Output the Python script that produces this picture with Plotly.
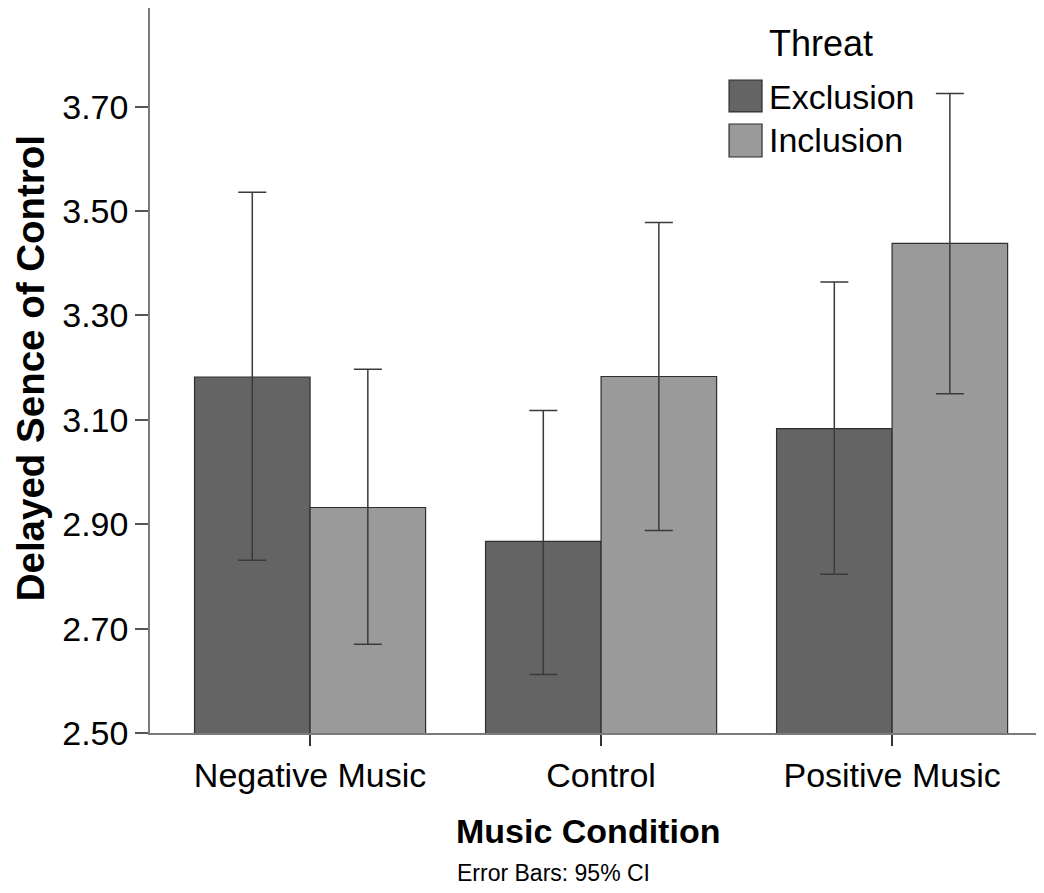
import plotly.graph_objects as go

categories = ["Negative Music", "Control", "Positive Music"]
exclusion_mean = [3.182, 2.867, 3.083]
exclusion_ci_low = [2.831, 2.612, 2.804]
exclusion_ci_high = [3.536, 3.118, 3.364]
inclusion_mean = [2.932, 3.183, 3.438]
inclusion_ci_low = [2.670, 2.888, 3.150]
inclusion_ci_high = [3.197, 3.478, 3.725]
y_tickvals = [2.50, 2.70, 2.90, 3.10, 3.30, 3.50, 3.70]

FONT = "Liberation Sans, Arial, sans-serif"
EXC_COLOR = "#646464"
INC_COLOR = "#9a9a9a"
EDGE = "#2e2e2e"


def err(mean, lo, hi):
    return dict(
        type="data",
        symmetric=False,
        array=[h - m for m, h in zip(mean, hi)],
        arrayminus=[m - l for m, l in zip(mean, lo)],
        color="#3a3a3a",
        thickness=1.5,
        width=14,
    )


fig = go.Figure()
fig.add_trace(go.Bar(
    x=categories, y=exclusion_mean, name="Exclusion",
    marker=dict(color=EXC_COLOR, line=dict(color=EDGE, width=1.2)),
    error_y=err(exclusion_mean, exclusion_ci_low, exclusion_ci_high),
))
fig.add_trace(go.Bar(
    x=categories, y=inclusion_mean, name="Inclusion",
    marker=dict(color=INC_COLOR, line=dict(color=EDGE, width=1.2)),
    error_y=err(inclusion_mean, inclusion_ci_low, inclusion_ci_high),
))

fig.update_layout(
    width=1036, height=885,
    margin=dict(l=142, r=0, t=0, b=160),
    paper_bgcolor="white", plot_bgcolor="white",
    barmode="group", bargap=0.206, bargroupgap=0,
    showlegend=False,
    font=dict(family=FONT, color="black"),
)
fig.update_xaxes(
    range=[-0.55, 2.522],
    showline=True, linecolor="#7a7a7a", linewidth=1.5,
    ticks="outside", ticklen=11, tickwidth=1.5, tickcolor="#333333",
    tickfont=dict(family=FONT, size=34, color="black"),
    showgrid=False, zeroline=False,
)
fig.update_yaxes(
    range=[2.5, 3.889],
    tickvals=y_tickvals, tickformat=".2f",
    showline=True, linecolor="#7a7a7a", linewidth=1.5,
    ticks="outside", ticklen=13, tickwidth=1.5, tickcolor="#555555",
    tickfont=dict(family=FONT, size=34, color="black"),
    showgrid=False, zeroline=False,
)

annotations = [
    dict(text="<b>Delayed Sence of Control</b>", xref="paper", yref="paper",
         x=0, xshift=-120, y=0.503, textangle=-90, showarrow=False,
         xanchor="center", yanchor="middle",
         font=dict(family=FONT, size=38.5, color="black")),
    dict(text="<b>Music Condition</b>", xref="paper", yref="paper",
         x=0.49, y=-0.135, showarrow=False, xanchor="center", yanchor="middle",
         font=dict(family=FONT, size=34, color="black")),
    dict(text="Error Bars: 95% CI", xref="paper", yref="paper",
         x=0.451, y=-0.193, showarrow=False, xanchor="center", yanchor="middle",
         font=dict(family=FONT, size=23, color="black")),
    dict(text="Threat", xref="paper", yref="paper",
         x=0.690, y=0.951, showarrow=False, xanchor="left", yanchor="middle",
         font=dict(family=FONT, size=36, color="black")),
    dict(text="Exclusion", xref="paper", yref="paper",
         x=0.690, y=0.877, showarrow=False, xanchor="left", yanchor="middle",
         font=dict(family=FONT, size=34, color="black")),
    dict(text="Inclusion", xref="paper", yref="paper",
         x=0.690, y=0.818, showarrow=False, xanchor="left", yanchor="middle",
         font=dict(family=FONT, size=34, color="black")),
]
fig.update_layout(annotations=annotations)

shapes = [
    dict(type="rect", xref="paper", yref="paper",
         x0=0.6477, x1=0.6846, y0=0.8566, y1=0.9007,
         fillcolor=EXC_COLOR, line=dict(color=EDGE, width=1.2)),
    dict(type="rect", xref="paper", yref="paper",
         x0=0.6477, x1=0.6846, y0=0.7945, y1=0.8400,
         fillcolor=INC_COLOR, line=dict(color=EDGE, width=1.2)),
]
fig.update_layout(shapes=shapes)

fig.write_html("out.html")
